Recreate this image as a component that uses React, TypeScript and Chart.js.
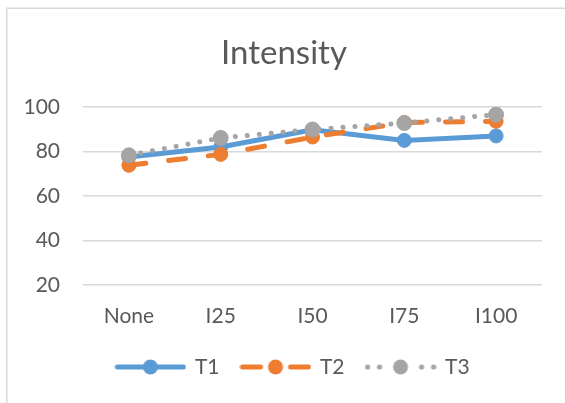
import React, { useEffect, useRef } from 'react';
import { Chart, registerables } from 'chart.js';

Chart.register(...registerables);

const categories = ['None', 'I25', 'I50', 'I75', 'I100'];
const t1Values = [77.5, 82, 89.8, 85, 87];
const t2Values = [73.8, 78.7, 86.5, 93, 93.6];
const t3Values = [78.3, 86.1, 89.9, 92.8, 96.6];
const seriesNames = ['T1', 'T2', 'T3'];
const yMin = 20;
const yMax = 100;
const yStep = 20;
const chartTitle = 'Intensity';

const FONT = 'Lato';
const TEXT = '#595959';
const GRID = '#D9D9D9';
const BLUE = '#5B9BD5';
const ORANGE = '#ED7D31';
const GREY = '#A5A5A5';

function legendImage(kind: 'solid' | 'dash' | 'dot', color: string): HTMLCanvasElement {
  const w = 72;
  const h = 18;
  const c = document.createElement('canvas');
  c.width = w;
  c.height = h;
  const ctx = c.getContext('2d')!;
  const cy = h / 2;
  ctx.strokeStyle = color;
  ctx.fillStyle = color;
  ctx.lineWidth = 5;
  ctx.lineCap = 'round';
  if (kind === 'solid') {
    ctx.beginPath();
    ctx.moveTo(3, cy);
    ctx.lineTo(w - 3, cy);
    ctx.stroke();
  } else if (kind === 'dash') {
    ctx.beginPath();
    ctx.moveTo(3, cy);
    ctx.lineTo(21, cy);
    ctx.moveTo(51, cy);
    ctx.lineTo(69, cy);
    ctx.stroke();
  } else {
    [3, 15, 57, 69].forEach((x) => {
      ctx.beginPath();
      ctx.arc(x, cy, 2.6, 0, Math.PI * 2);
      ctx.fill();
    });
  }
  ctx.beginPath();
  ctx.arc(w / 2, cy, 7.5, 0, Math.PI * 2);
  ctx.fill();
  return c;
}

const framePlugin = {
  id: 'frame',
  beforeDraw(chart: any) {
    const ctx = chart.ctx;
    ctx.save();
    ctx.strokeStyle = GRID;
    ctx.lineWidth = 1.5;
    ctx.beginPath();
    ctx.moveTo(6.75, chart.height);
    ctx.lineTo(6.75, 8.25);
    ctx.lineTo(chart.width, 8.25);
    ctx.stroke();
    ctx.restore();
  },
};

const titlePlugin = {
  id: 'centerTitle',
  afterDraw(chart: any) {
    const ctx = chart.ctx;
    ctx.save();
    ctx.fillStyle = TEXT;
    ctx.font = `33px ${FONT}`;
    ctx.textAlign = 'center';
    ctx.textBaseline = 'middle';
    ctx.fillText(chartTitle, chart.width / 2 + 1.5, 53);
    ctx.restore();
  },
};

export default function App() {
  const ref = useRef<HTMLCanvasElement | null>(null);

  useEffect(() => {
    if (!ref.current) return;
    const images = [
      legendImage('solid', BLUE),
      legendImage('dash', ORANGE),
      legendImage('dot', GREY),
    ];
    const colors = [BLUE, ORANGE, GREY];
    const font = { family: FONT, size: 21 };
    const chart = new Chart(ref.current, {
      type: 'line',
      data: {
        labels: categories,
        datasets: [
          {
            label: seriesNames[0],
            data: t1Values,
            borderColor: BLUE,
            backgroundColor: BLUE,
            borderWidth: 5,
            pointRadius: 7,
            pointBorderWidth: 1,
            pointBackgroundColor: BLUE,
            pointBorderColor: BLUE,
            order: 2,
          },
          {
            label: seriesNames[1],
            data: t2Values,
            borderColor: ORANGE,
            backgroundColor: ORANGE,
            borderWidth: 5,
            borderDash: [17, 23],
            borderCapStyle: 'round',
            pointRadius: 7,
            pointBorderWidth: 1,
            pointBackgroundColor: ORANGE,
            pointBorderColor: ORANGE,
            order: 1,
          },
          {
            label: seriesNames[2],
            data: t3Values,
            borderColor: GREY,
            backgroundColor: GREY,
            borderWidth: 5,
            borderDash: [0.01, 12],
            borderCapStyle: 'round',
            pointRadius: 7.5,
            pointBorderWidth: 1,
            pointBackgroundColor: GREY,
            pointBorderColor: GREY,
            order: 0,
          },
        ],
      },
      options: {
        animation: false,
        responsive: false,
        devicePixelRatio: 1,
        layout: { padding: { left: 21, right: 0, top: 107, bottom: 15.5 } },
        plugins: {
          title: { display: false },
          tooltip: { enabled: false },
          legend: {
            position: 'bottom',
            labels: {
              usePointStyle: true,
              pointStyleWidth: 68,
              boxHeight: 18,
              padding: 22,
              color: TEXT,
              font,
              generateLabels: (c: any) =>
                c.data.datasets.map((ds: any, i: number) => ({
                  text: ds.label,
                  pointStyle: images[i],
                  fillStyle: colors[i],
                  strokeStyle: colors[i],
                  lineWidth: 0,
                  hidden: false,
                  datasetIndex: i,
                  fontColor: TEXT,
                })),
            },
          },
        },
        scales: {
          x: {
            offset: true,
            grid: { display: false },
            border: { display: false },
            ticks: { color: TEXT, font, padding: 11 },
            afterFit: (s: any) => {
              s.height = 49.5;
            },
          },
          y: {
            min: yMin,
            max: yMax,
            ticks: { stepSize: yStep, padding: 23, color: TEXT, font },
            grid: { color: GRID, lineWidth: 1.5, drawTicks: false },
            border: { display: false },
            afterFit: (s: any) => {
              s.width = 62;
            },
          },
          yRight: {
            type: 'linear',
            position: 'right',
            display: true,
            min: yMin,
            max: yMax,
            grid: { display: false, drawOnChartArea: false },
            border: { display: false },
            ticks: { display: false },
            afterFit: (s: any) => {
              s.width = 23;
            },
          },
        },
      },
      plugins: [framePlugin, titlePlugin],
    });
    return () => chart.destroy();
  }, []);

  return (
    <div style={{ position: 'fixed', left: 0, top: 0, width: 565, height: 403, background: '#fff' }}>
      <canvas ref={ref} width={565} height={403} style={{ display: 'block' }} />
    </div>
  );
}
